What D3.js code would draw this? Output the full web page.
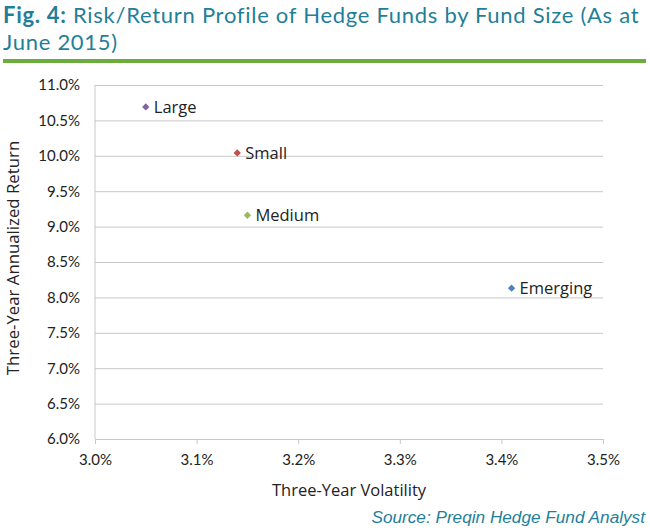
<!DOCTYPE html>
<html>
<head>
<meta charset="utf-8">
<script src="https://cdn.jsdelivr.net/npm/d3@7"></script>
<style>
  body { margin: 0; background: #fff; }
  svg { display: block; }
</style>
</head>
<body>
<div id="chart"></div>
<script>
// fund size groups and their three-year stats (percent)
const groups = ["Large", "Small", "Medium", "Emerging"];
const volatility = [3.05, 3.14, 3.15, 3.41];
const annReturn = [10.69, 10.04, 9.16, 8.13];
const colors = ["#8064a2", "#c0504d", "#9bbb59", "#4f81bd"];

const xTicks = [3.0, 3.1, 3.2, 3.3, 3.4, 3.5];
const yTicks = [6.0, 6.5, 7.0, 7.5, 8.0, 8.5, 9.0, 9.5, 10.0, 10.5, 11.0];

const W = 650, H = 532;
const margin = { top: 85, right: 47, bottom: 93, left: 95 };
const width = W - margin.left - margin.right,
  height = H - margin.top - margin.bottom;

const font = "Lato, 'Noto Sans', sans-serif";
const wide = "'Open Sans', Lato, sans-serif";
const teal = "#1f7f99";

const svg = d3.select("#chart").append("svg")
  .attr("width", W).attr("height", H);

// title (two lines, Lato keeps the line boxes from colliding)
const title = svg.append("text")
  .attr("x", 3).attr("y", 23)
  .style("font-family", font).style("font-size", "22px")
  .style("letter-spacing", "0.72px").style("fill", teal);
title.append("tspan").style("font-weight", "bold").text("Fig. 4:");
title.append("tspan").text(" Risk/Return Profile of Hedge Funds by Fund Size (As at");
svg.append("text")
  .attr("x", 3).attr("y", 50)
  .style("font-family", font).style("font-size", "22px")
  .style("letter-spacing", "0.72px").style("fill", teal)
  .text("June 2015)");

svg.append("rect")
  .attr("x", 3).attr("y", 59).attr("width", 643).attr("height", 4)
  .attr("fill", "#6aad3d");

const g = svg.append("g")
  .attr("transform", `translate(${margin.left},${margin.top})`);

const x = d3.scaleLinear().domain([3.0, 3.5]).range([0, width]);
const y = d3.scaleLinear().domain([6.0, 11.0]).range([height, 0]);

// horizontal gridlines
g.append("g")
  .call(d3.axisLeft(y).tickValues(yTicks).tickSize(-width).tickFormat(d => d.toFixed(1) + "%"))
  .call(ax => ax.select(".domain").remove())
  .call(ax => ax.selectAll(".tick line").attr("stroke", "#c8c8c8"))
  .call(ax => ax.selectAll(".tick text")
    .attr("x", -15)
    .style("font-family", font).style("font-size", "15px").style("fill", "#222"));

// left axis line
g.append("line")
  .attr("x1", 0).attr("x2", 0).attr("y1", 0).attr("y2", height)
  .attr("stroke", "#c8c8c8");

// bottom axis
g.append("g")
  .attr("transform", `translate(0,${height})`)
  .call(d3.axisBottom(x).tickValues(xTicks).tickSize(5).tickFormat(d => d.toFixed(1) + "%"))
  .call(ax => ax.select(".domain").attr("stroke", "#c8c8c8"))
  .call(ax => ax.selectAll(".tick line").attr("stroke", "#c8c8c8"))
  .call(ax => ax.selectAll(".tick text")
    .attr("dy", "1.2em")
    .style("font-family", font).style("font-size", "15px").style("fill", "#222"));

// axis titles
svg.append("text")
  .attr("x", margin.left + width / 2).attr("y", 496)
  .attr("text-anchor", "middle")
  .style("font-family", wide).style("font-size", "16.5px").style("fill", "#222")
  .text("Three-Year Volatility");

svg.append("text")
  .attr("transform", `translate(19,${margin.top + height / 2 - 4}) rotate(-90)`)
  .attr("text-anchor", "middle")
  .style("font-family", wide).style("font-size", "16.8px").style("fill", "#222")
  .text("Three-Year Annualized Return");

// points
const pts = groups.map((name, i) => ({ name, v: volatility[i], r: annReturn[i], c: colors[i] }));

const pt = g.selectAll(".pt").data(pts).join("g")
  .attr("transform", d => `translate(${x(d.v)},${y(d.r)})`);

pt.append("path")
  .attr("d", d3.symbol(d3.symbolDiamond2, 34))
  .attr("fill", d => d.c);

pt.append("text")
  .attr("x", 8).attr("dy", "0.35em")
  .style("font-family", wide).style("font-size", "16.5px").style("fill", "#222")
  .text(d => d.name);

// source
svg.append("text")
  .attr("x", 645).attr("y", 523)
  .attr("text-anchor", "end")
  .style("font-family", "'Liberation Sans', Arial, sans-serif")
  .style("font-size", "17.2px").style("font-style", "italic").style("fill", teal)
  .text("Source: Preqin Hedge Fund Analyst");
</script>
</body>
</html>
